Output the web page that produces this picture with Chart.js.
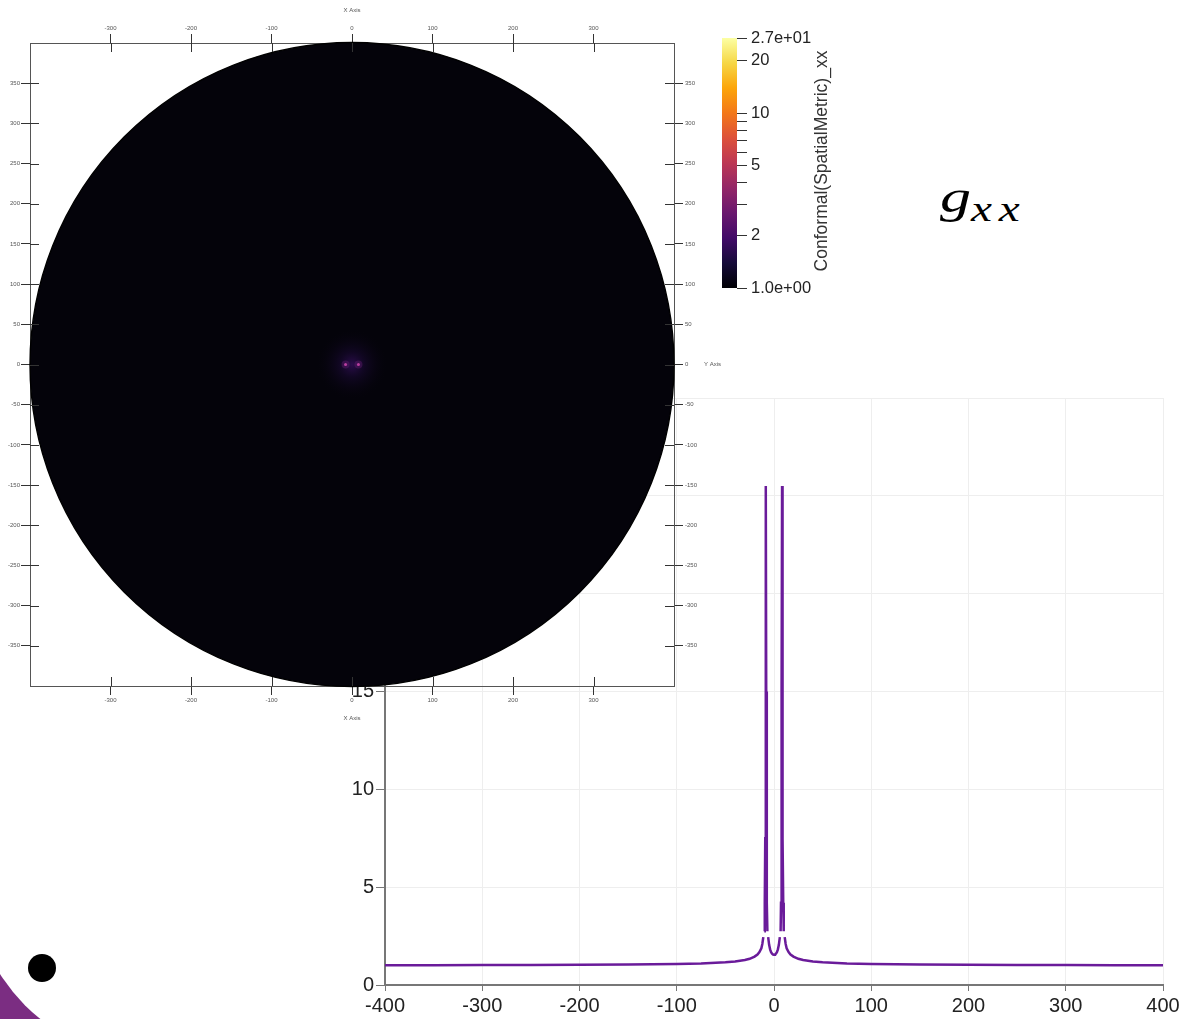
<!DOCTYPE html>
<html>
<head>
<meta charset="utf-8">
<script src="https://cdn.jsdelivr.net/npm/chart.js@4.4.1/dist/chart.umd.min.js"></script>
<style>
  html, body { margin: 0; padding: 0; background: #fff; width: 1183px; height: 1019px; overflow: hidden; }
  canvas { position: absolute; }
  #lineChart { left: 320px; top: 380px; z-index: 1; }
  #diskChart { left: 0; top: 0; z-index: 2; }
  #barChart { left: 700px; top: 20px; z-index: 3; }
  #glabel { position: absolute; left: 940px; top: 174px; font-family: 'Liberation Serif', serif; font-style: italic; line-height: 46px; color: #000; z-index: 4; white-space: nowrap; transform: scale(1.35, 1); transform-origin: left top; }
  #logo { position: absolute; left: 0; top: 940px; width: 80px; height: 79px; overflow: hidden; background: #7b2d82; }
  #logoCut { position: absolute; left: -27px; top: -237px; width: 354px; height: 354px; border-radius: 50%; background: #fff; }
  #logoDot { position: absolute; left: 28px; top: 954px; width: 28px; height: 28px; border-radius: 50%; background: #000; }
</style>
</head>
<body>
<div id="logo"><div id="logoCut"></div></div>
<div id="logoDot"></div>
<canvas id="lineChart" width="863" height="639"></canvas>
<canvas id="diskChart" width="740" height="730"></canvas>
<canvas id="barChart" width="140" height="340"></canvas>
<div id="glabel"><span style="font-size:46px">g</span><span style="font-size:35px;position:relative;top:9px;letter-spacing:5px">xx</span></div>
<script>
// line profile of g_xx along the x axis (null = break in the line)
var profileX = [-400, -350, -300, -250, -200, -150, -100, -75, -50, -40, -30, -25, -20, -17, -15, -13, -12, -11, -10.5, -10, -9.5, -9, -8.6, -8.3, -8, -7.6, -7.2, -6.8, -6.4, -6, -5, -4, -3, -2, -1,
                0, 1, 2, 3, 4, 5, 6, 6.4, 6.8, 7.2, 7.6, 8, 8.3, 8.6, 9, 9.5, 10, 10.5, 11, 12, 13, 15, 17, 20, 25, 30, 40, 50, 75, 100, 150, 200, 250, 300, 350, 400];
var profileY = [1.01, 1.015, 1.02, 1.025, 1.03, 1.05, 1.07, 1.1, 1.16, 1.2, 1.28, 1.34, 1.45, 1.56, 1.68, 1.88, 2.1, 2.45, null, 2.75, 4.2, 7.5, 15, 25.5, 15, 7.5, 4.2, 2.75, null, 2.45, 2.05, 1.82, 1.68, 1.6, 1.56,
                1.55, 1.56, 1.6, 1.68, 1.82, 2.05, 2.45, null, 2.75, 4.2, 7.5, 15, 25.5, 15, 7.5, 4.2, 2.75, null, 2.45, 2.1, 1.88, 1.68, 1.56, 1.45, 1.34, 1.28, 1.2, 1.16, 1.1, 1.07, 1.05, 1.03, 1.025, 1.02, 1.015, 1.01];
var lineXMin = -400, lineXMax = 400, lineXStep = 100;
var lineYMin = 0, lineYMax = 30, lineYStep = 5;

// slice plot
var sliceMin = -400, sliceMax = 400;
var sliceXStep = 100, sliceYStep = 50;
var diskRadius = 400;
var holeX = [-8, 8];
var holeY = [0, 0];

// colour bar
var cbMin = 1, cbMax = 27;
var cbTicks = [1, 2, 3, 4, 5, 6, 7, 8, 9, 10, 20, 27];
var cbLabels = {1: '1.0e+00', 2: '2', 5: '5', 10: '10', 20: '20', 27: '2.7e+01'};
var cbTitle = 'Conformal(SpatialMetric)_xx';
var inferno = ['#000004', '#160b39', '#420a68', '#6a176e', '#932667', '#bc3754', '#dd513a', '#f37819', '#fca50a', '#f6d746', '#fcffa4'];

Chart.defaults.font.family = "'Liberation Sans', Arial, sans-serif";

var profilePoints = profileX.map(function (x, i) { return {x: x, y: profileY[i]}; });

new Chart(document.getElementById('lineChart'), {
    type: 'line',
    data: {
        datasets: [{
            data: profilePoints,
            borderColor: '#6a1b9a',
            borderWidth: 2.5,
            pointRadius: 0,
            tension: 0,
            spanGaps: false,
            fill: false
        }]
    },
    options: {
        responsive: false,
        animation: false,
        layout: {padding: {top: 18, right: 20, left: 0, bottom: 0}},
        plugins: {legend: {display: false}, tooltip: {enabled: false}},
        scales: {
            x: {
                type: 'linear', min: lineXMin, max: lineXMax,
                ticks: {stepSize: lineXStep, font: {size: 20}, color: '#222', padding: 3, maxRotation: 0},
                grid: {color: '#eeeeee', tickColor: '#777', tickLength: 6},
                border: {color: '#777', width: 2},
                afterFit: function (s) { s.height = 34; }
            },
            y: {
                min: lineYMin, max: lineYMax,
                ticks: {stepSize: lineYStep, font: {size: 20}, color: '#222', padding: 2},
                grid: {color: '#eeeeee', tickColor: '#777', tickLength: 9},
                border: {color: '#777', width: 2},
                afterFit: function (s) { s.width = 65; }
            }
        }
    }
});

function dropEdgeTicks(scale) {
    scale.ticks = scale.ticks.filter(function (t) { return Math.abs(t.value) < sliceMax; });
}

var diskPlugin = {
    id: 'disk',
    beforeDatasetsDraw: function (chart) {
        var ctx = chart.ctx, sx = chart.scales.x, sy = chart.scales.y;
        var cx = sx.getPixelForValue(0), cy = sy.getPixelForValue(0);
        var r = sx.getPixelForValue(diskRadius) - cx;
        ctx.save();
        ctx.beginPath();
        ctx.arc(cx, cy, r, 0, Math.PI * 2);
        ctx.fillStyle = '#04030a';
        ctx.fill();
        ctx.lineWidth = 1.4;
        ctx.strokeStyle = '#000';
        ctx.stroke();
        var hr = sx.getPixelForValue(45) - cx;
        var g = ctx.createRadialGradient(cx, cy, 0, cx, cy, hr);
        g.addColorStop(0, 'rgba(70,20,120,0.6)');
        g.addColorStop(0.35, 'rgba(35,12,70,0.4)');
        g.addColorStop(1, 'rgba(4,3,10,0)');
        ctx.fillStyle = g;
        ctx.beginPath();
        ctx.arc(cx, cy, hr, 0, Math.PI * 2);
        ctx.fill();
        ctx.restore();
    },
    afterDraw: function (chart) {
        var ctx = chart.ctx, a = chart.chartArea, len = 9;
        ctx.save();
        ctx.strokeStyle = '#333';
        ctx.lineWidth = 1;
        ['x', 'x2', 'y', 'y2'].forEach(function (id) {
            var s = chart.scales[id];
            s.ticks.forEach(function (t) {
                var p = Math.round(s.getPixelForValue(t.value)) + 0.5;
                ctx.beginPath();
                if (id === 'x') { ctx.moveTo(p, a.bottom); ctx.lineTo(p, a.bottom - len); }
                if (id === 'x2') { ctx.moveTo(p, a.top); ctx.lineTo(p, a.top + len); }
                if (id === 'y') { ctx.moveTo(a.left, p); ctx.lineTo(a.left + len, p); }
                if (id === 'y2') { ctx.moveTo(a.right, p); ctx.lineTo(a.right - len, p); }
                ctx.stroke();
            });
        });
        ctx.fillStyle = '#555';
        ctx.font = "6px 'Liberation Sans', Arial, sans-serif";
        ctx.textBaseline = 'middle';
        ctx.textAlign = 'left';
        ctx.fillText('Y Axis', a.right + 30, chart.scales.y2.getPixelForValue(0));
        ctx.restore();
    }
};

var tinyTicks = {font: {size: 6}, color: '#555', maxRotation: 0};
var tinyGrid = {drawOnChartArea: false, tickLength: 9, color: '#333'};
var tinyBorder = {color: '#555', width: 1};

new Chart(document.getElementById('diskChart'), {
    type: 'scatter',
    data: {
        datasets: [{
            data: holeX.map(function (x, i) { return {x: x, y: holeY[i]}; }),
            pointRadius: 4, pointBorderWidth: 0,
            backgroundColor: 'rgba(130,35,140,0.3)',
            xAxisID: 'x', yAxisID: 'y'
        }, {
            data: holeX.map(function (x, i) { return {x: x, y: holeY[i]}; }),
            pointRadius: 1.5, pointBorderWidth: 0,
            backgroundColor: '#d04aa8',
            xAxisID: 'x', yAxisID: 'y'
        }]
    },
    options: {
        responsive: false,
        animation: false,
        layout: {padding: 0},
        plugins: {legend: {display: false}, tooltip: {enabled: false}},
        scales: {
            x: {
                type: 'linear', position: 'bottom', min: sliceMin, max: sliceMax,
                afterBuildTicks: dropEdgeTicks,
                ticks: Object.assign({stepSize: sliceXStep, padding: 2}, tinyTicks),
                grid: tinyGrid, border: tinyBorder,
                title: {display: true, text: 'X Axis', font: {size: 6}, color: '#555', padding: {top: 0, bottom: 8}},
                afterFit: function (s) { s.height = 44; }
            },
            x2: {
                type: 'linear', position: 'top', min: sliceMin, max: sliceMax,
                afterBuildTicks: dropEdgeTicks,
                ticks: Object.assign({stepSize: sliceXStep, padding: 2}, tinyTicks),
                grid: tinyGrid, border: tinyBorder,
                title: {display: true, text: 'X Axis', font: {size: 6}, color: '#555', padding: {top: 7, bottom: 0}},
                afterFit: function (s) { s.height = 43; }
            },
            y: {
                type: 'linear', position: 'left', min: sliceMin, max: sliceMax,
                afterBuildTicks: dropEdgeTicks,
                ticks: Object.assign({stepSize: sliceYStep, padding: 1}, tinyTicks),
                grid: tinyGrid, border: tinyBorder,
                afterFit: function (s) { s.width = 30; }
            },
            y2: {
                type: 'linear', position: 'right', min: sliceMin, max: sliceMax,
                afterBuildTicks: dropEdgeTicks,
                ticks: Object.assign({stepSize: sliceYStep, padding: 2}, tinyTicks),
                grid: tinyGrid, border: tinyBorder,
                afterFit: function (s) { s.width = 66; }
            }
        }
    },
    plugins: [diskPlugin]
});

var cbTitlePlugin = {
    id: 'cbTitle',
    afterDraw: function (chart) {
        var ctx = chart.ctx, a = chart.chartArea;
        ctx.save();
        ctx.translate(a.right + 85, (a.top + a.bottom) / 2 - 2);
        ctx.rotate(-Math.PI / 2);
        ctx.fillStyle = '#333';
        ctx.font = "17.5px 'Liberation Sans', Arial, sans-serif";
        ctx.textAlign = 'center';
        ctx.textBaseline = 'middle';
        ctx.fillText(cbTitle, 0, 0);
        ctx.restore();
    }
};

new Chart(document.getElementById('barChart'), {
    type: 'bar',
    data: {
        labels: ['range'],
        datasets: [{
            data: [[cbMin, cbMax]],
            borderWidth: 0,
            barPercentage: 1,
            categoryPercentage: 1,
            backgroundColor: function (c) {
                var a = c.chart.chartArea;
                if (!a) return inferno[0];
                var g = c.chart.ctx.createLinearGradient(0, a.bottom, 0, a.top);
                inferno.forEach(function (col, i) { g.addColorStop(i / (inferno.length - 1), col); });
                return g;
            }
        }]
    },
    options: {
        responsive: false,
        animation: false,
        layout: {padding: {top: 18, left: 22, bottom: 72, right: 0}},
        plugins: {legend: {display: false}, tooltip: {enabled: false}},
        scales: {
            x: {display: false},
            y: {
                type: 'logarithmic', position: 'right', min: cbMin, max: cbMax,
                afterBuildTicks: function (s) { s.ticks = cbTicks.map(function (v) { return {value: v}; }); },
                ticks: {
                    font: {size: 16.5}, color: '#222', padding: 4, autoSkip: false,
                    callback: function (v) { return cbLabels[v] || ''; }
                },
                grid: {drawOnChartArea: false, tickLength: 10, tickColor: '#333', lineWidth: 1},
                border: {display: false},
                afterFit: function (s) { s.width = 103; }
            }
        }
    },
    plugins: [cbTitlePlugin]
});
</script>
</body>
</html>
